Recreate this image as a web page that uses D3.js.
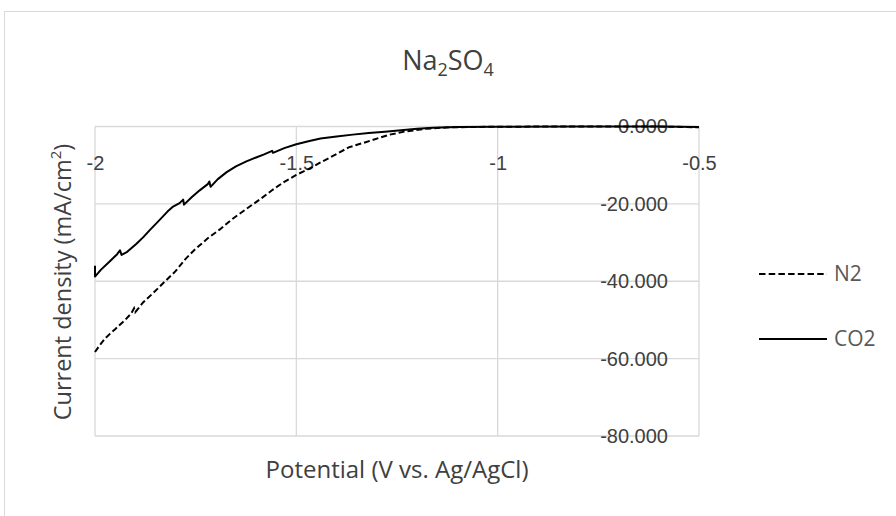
<!DOCTYPE html>
<html>
<head>
<meta charset="utf-8">
<script src="https://cdn.jsdelivr.net/npm/d3@7"></script>
<style>
  body { margin: 0; background: #fff; }
  svg { display: block; font-family: "Open Sans", "Noto Sans", sans-serif; }
  .tick text { fill: #404040; font-size: 20px; }
</style>
</head>
<body>
<div id="chart"></div>
<script>
// datos (V vs. Ag/AgCl, mA/cm2)
const seriesNames = ["N2", "CO2"];

const n2Potential = [-2.000, -1.990, -1.975, -1.963, -1.950, -1.942, -1.925, -1.910, -1.903, -1.900,
  -1.880, -1.855, -1.826, -1.800, -1.775, -1.752, -1.720, -1.690, -1.660, -1.624, -1.590, -1.558,
  -1.530, -1.500, -1.470, -1.440, -1.409, -1.370, -1.326, -1.290, -1.268, -1.230, -1.180, -1.120,
  -1.000, -0.800, -0.600, -0.500];
const n2Current = [-58.3, -56.8, -54.8, -53.6, -52.4, -51.6, -50.0, -48.3, -47.0, -48.0,
  -45.4, -43.0, -40.0, -37.4, -34.2, -31.8, -28.9, -26.6, -24.0, -21.3, -18.8, -16.3,
  -14.3, -12.5, -11.0, -9.3, -7.6, -5.4, -4.0, -2.8, -2.1, -1.3, -0.6, -0.2,
  -0.05, 0, 0, -0.2];

const co2Potential = [-2.000, -2.000, -1.985, -1.965, -1.945, -1.938, -1.934, -1.920, -1.897, -1.880,
  -1.864, -1.840, -1.820, -1.806, -1.790, -1.781, -1.779, -1.760, -1.740, -1.720, -1.716, -1.713,
  -1.695, -1.673, -1.650, -1.624, -1.600, -1.580, -1.560, -1.558, -1.530, -1.500, -1.470, -1.440,
  -1.400, -1.360, -1.320, -1.280, -1.240, -1.200, -1.160, -1.100, -1.000, -0.800, -0.600, -0.500];
const co2Current = [-36.0, -38.8, -37.0, -35.0, -33.0, -32.0, -33.2, -32.4, -30.3, -28.6,
  -26.8, -24.2, -22.0, -20.7, -19.8, -18.9, -20.2, -18.3, -16.5, -14.9, -14.2, -15.6,
  -13.6, -11.8, -10.3, -9.0, -8.0, -7.2, -6.3, -6.8, -5.6, -4.6, -3.8, -3.1,
  -2.6, -2.1, -1.65, -1.35, -1.0, -0.6, -0.35, -0.15, -0.05, 0, 0, -0.1];

const xTicks = [-2, -1.5, -1, -0.5];
const yTicks = [0, -20, -40, -60, -80];

const W = 896, H = 516;
const plot = { left: 95, right: 699, top: 126.5, bottom: 436 };

const svg = d3.select("#chart").append("svg")
  .attr("width", W).attr("height", H);

// borde del área del gráfico
svg.append("rect")
  .attr("x", 4.5).attr("y", 11.5)
  .attr("width", 1000).attr("height", 1000)
  .attr("fill", "#fff").attr("stroke", "#d9d9d9").attr("stroke-width", 1);

const x = d3.scaleLinear().domain([-2, -0.5]).range([plot.left, plot.right]);
const y = d3.scaleLinear().domain([0, -80]).range([plot.top, plot.bottom]);

const loc = d3.formatLocale({ decimal: ".", thousands: ",", grouping: [3], currency: ["", ""], minus: "-" });
const fmtY = loc.format(".3f");
const fmtX = loc.format("");

// rejilla
const grid = svg.append("g").attr("stroke", "#d9d9d9").attr("stroke-width", 1.3);
grid.selectAll("line.h").data(yTicks).join("line")
  .attr("x1", plot.left).attr("x2", plot.right)
  .attr("y1", d => y(d)).attr("y2", d => y(d));
grid.selectAll("line.v").data(xTicks).join("line")
  .attr("x1", d => x(d)).attr("x2", d => x(d))
  .attr("y1", plot.top).attr("y2", plot.bottom);

// ejes (solo etiquetas)
svg.append("g")
  .attr("transform", `translate(${plot.right},0)`)
  .call(d3.axisLeft(y).tickValues(yTicks).tickSize(0).tickPadding(31).tickFormat(fmtY))
  .call(g => g.select(".domain").remove())
  .selectAll("text").attr("font-family", null);

svg.append("g")
  .attr("transform", `translate(0,${y(0)})`)
  .call(d3.axisBottom(x).tickValues(xTicks).tickSize(0).tickPadding(29).tickFormat(fmtX))
  .call(g => g.select(".domain").remove())
  .selectAll("text").attr("font-family", null);

// curvas
const line = d3.line().x(d => x(d[0])).y(d => y(d[1]));
const n2Data = d3.zip(n2Potential, n2Current);
const co2Data = d3.zip(co2Potential, co2Current);

svg.append("path").datum(co2Data)
  .attr("d", line).attr("fill", "none")
  .attr("stroke", "#000").attr("stroke-width", 2).attr("stroke-linejoin", "round");

svg.append("path").datum(n2Data)
  .attr("d", line).attr("fill", "none")
  .attr("stroke", "#000").attr("stroke-width", 2).attr("stroke-dasharray", "6,3");

// título
const title = svg.append("text")
  .attr("x", 448).attr("y", 70)
  .attr("text-anchor", "middle")
  .attr("fill", "#404040").attr("font-size", 27);
title.append("tspan").text("Na");
title.append("tspan").attr("font-size", 18).attr("dy", 6).text("2");
title.append("tspan").attr("dy", -6).text("SO");
title.append("tspan").attr("font-size", 18).attr("dy", 6).text("4");

// títulos de ejes
svg.append("text")
  .attr("x", 397).attr("y", 478)
  .attr("text-anchor", "middle")
  .attr("fill", "#404040").attr("font-size", 24)
  .text("Potential (V vs. Ag/AgCl)");

const yl = svg.append("text")
  .attr("transform", "translate(71,282) rotate(-90)")
  .attr("text-anchor", "middle")
  .attr("fill", "#404040").attr("font-size", 23.5);
yl.append("tspan").text("Current density (mA/cm");
yl.append("tspan").attr("font-size", 15).attr("dy", -10).text("2");
yl.append("tspan").attr("dy", 10).text(")");

// leyenda
const legendY = [274, 339];
const leg = svg.append("g").selectAll("g").data(seriesNames).join("g")
  .attr("transform", (d, i) => `translate(759,${legendY[i]})`);
leg.append("line")
  .attr("x1", 0).attr("x2", 68)
  .attr("stroke", "#000").attr("stroke-width", 2)
  .attr("stroke-dasharray", (d, i) => i === 0 ? "6.5,3.2" : null);
leg.append("text")
  .attr("x", 75).attr("y", 7)
  .attr("fill", "#595959").attr("font-size", 21)
  .text(d => d);
</script>
</body>
</html>
